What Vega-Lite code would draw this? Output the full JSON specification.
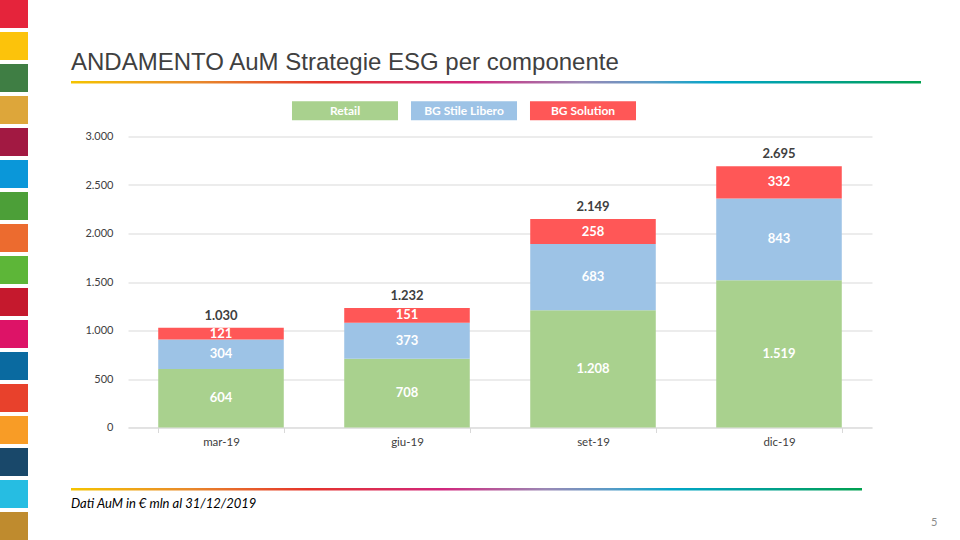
{
  "$schema": "https://vega.github.io/schema/vega-lite/v6.json",
  "background": "white",
  "padding": 0,
  "config": {
    "view": {"stroke": null},
    "font": "Lato",
    "locale": {"number": {"decimal": ",", "thousands": ".", "grouping": [3], "currency": ["", " €"]}}
  },
  "datasets": {
    "goals": [
      {"goal": 1}, {"goal": 2}, {"goal": 3}, {"goal": 4}, {"goal": 5}, {"goal": 6},
      {"goal": 7}, {"goal": 8}, {"goal": 9}, {"goal": 10}, {"goal": 11}, {"goal": 12},
      {"goal": 13}, {"goal": 14}, {"goal": 15}, {"goal": 16}, {"goal": 17}
    ],
    "bars": [
      {"period": "mar-19", "series": "Retail", "value": 604},
      {"period": "mar-19", "series": "BG Stile Libero", "value": 304},
      {"period": "mar-19", "series": "BG Solution", "value": 121},
      {"period": "giu-19", "series": "Retail", "value": 708},
      {"period": "giu-19", "series": "BG Stile Libero", "value": 373},
      {"period": "giu-19", "series": "BG Solution", "value": 151},
      {"period": "set-19", "series": "Retail", "value": 1208},
      {"period": "set-19", "series": "BG Stile Libero", "value": 683},
      {"period": "set-19", "series": "BG Solution", "value": 258},
      {"period": "dic-19", "series": "Retail", "value": 1519},
      {"period": "dic-19", "series": "BG Stile Libero", "value": 843},
      {"period": "dic-19", "series": "BG Solution", "value": 332}
    ],
    "totals": [
      {"period": "mar-19", "total": 1030},
      {"period": "giu-19", "total": 1232},
      {"period": "set-19", "total": 2149},
      {"period": "dic-19", "total": 2695}
    ]
  },
  "spacing": 43,
  "resolve": {"scale": {"color": "independent"}, "legend": {"color": "independent"}},
  "hconcat": [
    {
      "data": {"name": "goals"},
      "width": 28,
      "height": 459,
      "mark": {"type": "rect"},
      "encoding": {
        "y": {"field": "goal", "type": "ordinal", "axis": null, "scale": {"paddingInner": 0.125, "paddingOuter": 0, "range": [-81, 459]}},
        "color": {
          "field": "goal", "type": "ordinal", "legend": null,
          "scale": {
            "domain": [1,2,3,4,5,6,7,8,9,10,11,12,13,14,15,16,17],
            "range": ["#E5243B", "#FCC30B", "#3F7E44", "#DDA63A", "#A21942", "#0A97D9", "#4C9F38", "#EC6B2F", "#5DB638", "#C5192D", "#DD1367", "#0A6AA0", "#E8412C", "#F89C26", "#19486A", "#26BDE2", "#BF8B2E"]
          }
        }
      }
    },
    {
      "spacing": 35.5,
      "vconcat": [
        {
          "data": {"values": [{"line": "header"}]},
          "width": 850,
          "height": 2.5,
          "title": {
            "text": "ANDAMENTO AuM Strategie ESG per componente",
            "anchor": "start",
            "orient": "top",
            "font": "Liberation Sans",
            "fontSize": 24,
            "fontWeight": "normal",
            "color": "#404040",
            "baseline": "alphabetic",
            "offset": 10,
            "dy": 23
          },
          "mark": {
            "type": "rect",
            "color": {
              "gradient": "linear", "x1": 0, "y1": 0, "x2": 1, "y2": 0,
              "stops": [
                {"offset": 0, "color": "#F5C400"},
                {"offset": 0.15, "color": "#E8892B"},
                {"offset": 0.3, "color": "#E5332A"},
                {"offset": 0.47, "color": "#D1267D"},
                {"offset": 0.6, "color": "#9A88B5"},
                {"offset": 0.68, "color": "#5A9AC6"},
                {"offset": 0.76, "color": "#00A6C8"},
                {"offset": 0.86, "color": "#00A09A"},
                {"offset": 1, "color": "#00A04E"}
              ]
            }
          },
          "encoding": {}
        },
        {
          "spacing": 1,
          "hconcat": [
            {
              "data": {"values": []},
              "width": 0.01,
              "height": 291,
              "mark": {"type": "point"},
              "encoding": {}
            },
            {
              "width": 744,
              "height": 291,
              "resolve": {"axis": {"x": "independent"}},
              "layer": [
                {
                  "data": {"name": "bars"},
                  "transform": [
                    {"stack": "value", "groupby": ["period"], "sort": [{"field": "series", "order": "descending"}], "as": ["v0", "v1"]}
                  ],
                  "mark": {"type": "bar"},
                  "encoding": {
                    "x": {
                      "field": "period", "type": "ordinal", "sort": ["mar-19", "giu-19", "set-19", "dic-19"],
                      "scale": {"paddingInner": 0.325, "paddingOuter": 0.1625},
                      "axis": {
                        "title": null, "labelAngle": 0, "labelColor": "#404040", "labelFontSize": 11.5,
                        "labelFont": "Lato", "labelPadding": 4, "domainColor": "#d9d9d9", "ticks": true,
                        "tickBand": "extent", "tickColor": "#d9d9d9", "tickSize": 5, "minExtent": 25, "maxExtent": 25
                      }
                    },
                    "y": {
                      "field": "v0", "type": "quantitative",
                      "scale": {"domain": [0, 3000]},
                      "axis": {
                        "title": null, "values": [0, 500, 1000, 1500, 2000, 2500, 3000], "format": ",.0f",
                        "labelColor": "#404040", "labelFontSize": 11, "labelFont": "Lato", "labelPadding": 15,
                        "domain": false, "ticks": false, "gridColor": "#d9d9d9", "minExtent": 55, "maxExtent": 55
                      }
                    },
                    "y2": {"field": "v1"},
                    "color": {
                      "field": "series", "type": "nominal",
                      "scale": {"domain": ["Retail", "BG Stile Libero", "BG Solution"], "range": ["#A9D18E", "#9DC3E6", "#FF5757"]},
                      "legend": {
                        "orient": "none", "legendX": 255, "legendY": 10.5, "direction": "horizontal", "title": null,
                        "symbolType": "M-2.79,-0.5H2.79V0.5H-2.79Z", "symbolSize": 1444, "symbolStrokeWidth": 0,
                        "symbolOpacity": 1, "symbolOffset": 0, "labelAlign": "center", "labelOffset": -19,
                        "labelColor": "white", "labelFont": "Lato", "labelFontWeight": "bold", "labelFontSize": 12,
                        "columnPadding": 11, "padding": 0
                      }
                    }
                  }
                },
                {
                  "data": {"name": "bars"},
                  "transform": [
                    {"stack": "value", "groupby": ["period"], "sort": [{"field": "series", "order": "descending"}], "as": ["v0", "v1"]},
                    {"fold": ["v0", "v1"], "as": ["edge", "pos"]}
                  ],
                  "mark": {"type": "text", "color": "white", "font": "Lato", "fontWeight": "bold", "fontSize": 13, "baseline": "middle"},
                  "encoding": {
                    "x": {"field": "period", "type": "ordinal", "sort": ["mar-19", "giu-19", "set-19", "dic-19"], "axis": null},
                    "y": {"aggregate": "mean", "field": "pos", "type": "quantitative"},
                    "detail": {"field": "series", "type": "nominal"},
                    "text": {"field": "value", "type": "quantitative", "format": ",.0f"}
                  }
                },
                {
                  "data": {"name": "totals"},
                  "mark": {"type": "text", "color": "#404040", "font": "Lato", "fontWeight": "bold", "fontSize": 13, "baseline": "bottom", "dy": -5},
                  "encoding": {
                    "x": {
                      "field": "period", "type": "ordinal", "sort": ["mar-19", "giu-19", "set-19", "dic-19"],
                      "axis": {"orient": "top", "title": null, "labels": false, "ticks": false, "domain": false, "grid": false, "minExtent": 17, "maxExtent": 17}
                    },
                    "y": {"field": "total", "type": "quantitative"},
                    "text": {"field": "total", "type": "quantitative", "format": ",.0f"}
                  }
                }
              ]
            }
          ]
        },
        {
          "spacing": 69,
          "hconcat": [
            {
              "data": {"values": [{"line": "footer"}]},
              "width": 791,
              "height": 2.5,
              "title": {
                "text": "Dati AuM in € mln al 31/12/2019",
                "orient": "bottom",
                "anchor": "start",
                "font": "Lato",
                "fontStyle": "italic",
                "fontWeight": "normal",
                "fontSize": 13,
                "color": "#000000",
                "baseline": "top",
                "offset": 7
              },
              "mark": {
                "type": "rect",
                "color": {
                  "gradient": "linear", "x1": 0, "y1": 0, "x2": 1, "y2": 0,
                  "stops": [
                    {"offset": 0, "color": "#F5C400"},
                    {"offset": 0.15, "color": "#E8892B"},
                    {"offset": 0.3, "color": "#E5332A"},
                    {"offset": 0.47, "color": "#D1267D"},
                    {"offset": 0.6, "color": "#9A88B5"},
                    {"offset": 0.68, "color": "#5A9AC6"},
                    {"offset": 0.76, "color": "#00A6C8"},
                    {"offset": 0.86, "color": "#00A09A"},
                    {"offset": 1, "color": "#00A04E"}
                  ]
                }
              },
              "encoding": {}
            },
            {
              "data": {"values": []},
              "width": 0.01,
              "height": 2.5,
              "title": {
                "text": "5",
                "orient": "bottom",
                "anchor": "start",
                "font": "Lato",
                "fontWeight": "normal",
                "fontSize": 11,
                "color": "#8c8c8c",
                "baseline": "top",
                "offset": 26
              },
              "mark": {"type": "point"},
              "encoding": {}
            }
          ]
        }
      ]
    }
  ]
}
